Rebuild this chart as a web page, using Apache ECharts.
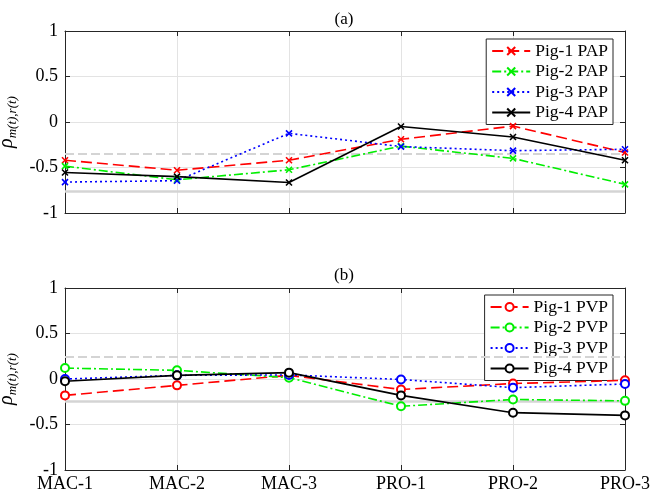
<!DOCTYPE html>
<html><head><meta charset="utf-8">
<script src="https://cdn.jsdelivr.net/npm/echarts@6/dist/echarts.min.js"></script>
<style>html,body{margin:0;padding:0;background:#fff}#c{width:653px;height:498px}</style>
</head><body><div id="c"></div>
<script>
const categories = ['MAC-1','MAC-2','MAC-3','PRO-1','PRO-2','PRO-3'];
const yTicks = [-1, -0.5, 0, 0.5, 1];
// Panel (a) PAP
const pig1PAP = [-0.42, -0.53, -0.42, -0.19, -0.045, -0.335];
const pig2PAP = [-0.485, -0.635, -0.525, -0.265, -0.40, -0.685];
const pig3PAP = [-0.66, -0.645, -0.125, -0.27, -0.315, -0.30];
const pig4PAP = [-0.555, -0.60, -0.665, -0.05, -0.165, -0.42];
const refA = [-0.35, -0.755];
// Panel (b) PVP
const pig1PVP = [-0.18, -0.07, 0.04, -0.115, -0.05, -0.015];
const pig2PVP = [0.12, 0.095, 0.015, -0.30, -0.225, -0.24];
const pig3PVP = [0.0, 0.04, 0.045, -0.005, -0.095, -0.055];
const pig4PVP = [-0.025, 0.04, 0.07, -0.18, -0.37, -0.40];
const refB = [0.25, -0.245];

const FONT = 'Liberation Serif';
const colors = ['#ff0000', '#00ee00', '#0000ff', '#000000'];
const dashes = [[11,5], [9,3,2,3], [2,3], 'solid'];
const crossPath = 'path://M0,0L10,10M10,0L0,10';

const chart = echarts.init(document.getElementById('c'), null, {renderer:'canvas'});

function mkX(gi, pos, showLabels) {
  return {
    type:'category', data:categories, gridIndex:gi, position:pos, boundaryGap:false,
    axisLine:{show:true, onZero:false, lineStyle:{color:'#262626', width:1}},
    axisTick:{show:true, inside:true, length:5, alignWithLabel:true, lineStyle:{color:'#262626'}},
    axisLabel:{show:showLabels, fontFamily:FONT, fontSize:18, color:'#000', margin:5, hideOverlap:false},
    splitLine:{show:pos==='bottom', lineStyle:{color:'#e3e3e3', width:1}}
  };
}
function mkY(gi, pos) {
  const left = pos === 'left';
  return {
    type:'value', gridIndex:gi, position:pos, min:-1, max:1, interval:0.5,
    axisLine:{show:true, onZero:false, lineStyle:{color:'#262626', width:1}},
    axisTick:{show:true, inside:true, length:5, lineStyle:{color:'#262626'}},
    axisLabel:{show:left, fontFamily:FONT, fontSize:18, color:'#000', margin:7,
      formatter: v => (yTicks.indexOf(v) >= 0 ? String(v) : '')},
    splitLine:{show:left, lineStyle:{color:'#e3e3e3', width:1}},
    name: left ? '{a|ρ}{s|m(t),r(t)}' : '',
    nameLocation:'middle', nameGap:32, nameRotate:90,
    nameTextStyle:{rich:{
      a:{fontFamily:FONT, fontStyle:'italic', fontSize:20, color:'#000'},
      s:{fontFamily:FONT, fontStyle:'italic', fontSize:13, color:'#000', padding:[10,0,0,0]}
    }}
  };
}

function mkSeries(name, data, i, gi, sym, ref) {
  const s = {
    name, type:'line', data, xAxisIndex: gi*2, yAxisIndex: gi*2,
    symbol: sym, symbolSize: sym === 'emptyCircle' ? 8 : 6,
    showSymbol:true,
    lineStyle:{color:colors[i], width:1.6, type:dashes[i]},
    itemStyle:{color:colors[i], borderColor:colors[i], borderWidth:1.6},
    z: 5, animation:false
  };
  if (ref) {
    s.markLine = {
      silent:true, symbol:['none','none'], label:{show:false}, animation:false,
      data:[
        {yAxis:ref[0], lineStyle:{color:'#d4d4d4', width:2, type:[9,4]}},
        {yAxis:ref[1], lineStyle:{color:'#d4d4d4', width:2.5, type:'solid'}}
      ]
    };
  }
  return s;
}

const series = [
  mkSeries('Pig-1 PAP', pig1PAP, 0, 0, crossPath, refA),
  mkSeries('Pig-2 PAP', pig2PAP, 1, 0, crossPath),
  mkSeries('Pig-3 PAP', pig3PAP, 2, 0, crossPath),
  mkSeries('Pig-4 PAP', pig4PAP, 3, 0, crossPath),
  mkSeries('Pig-1 PVP', pig1PVP, 0, 1, 'emptyCircle', refB),
  mkSeries('Pig-2 PVP', pig2PVP, 1, 1, 'emptyCircle'),
  mkSeries('Pig-3 PVP', pig3PVP, 2, 1, 'emptyCircle'),
  mkSeries('Pig-4 PVP', pig4PVP, 3, 1, 'emptyCircle')
];

function mkLegend(names, top) {
  return {
    data:names, right:40, top:top, orient:'vertical',
    backgroundColor:'#fff', borderColor:'#262626', borderWidth:1,
    padding:[3,5,3,5], itemGap:2.5, itemWidth:38, itemHeight:10,
    textStyle:{fontFamily:FONT, fontSize:17.5, color:'#000'}
  };
}

chart.setOption({
  animation:false,
  backgroundColor:'#fff',
  title:[
    {text:'(a)', left:339, top:6, textAlign:'center', textStyle:{fontFamily:FONT, fontSize:17, fontWeight:'normal', color:'#000'}},
    {text:'(b)', left:339, top:262, textAlign:'center', textStyle:{fontFamily:FONT, fontSize:17, fontWeight:'normal', color:'#000'}}
  ],
  grid:[
    {left:65, top:31, width:560, height:182, containLabel:false, outerBoundsMode:'none'},
    {left:65, top:288, width:560, height:182, containLabel:false, outerBoundsMode:'none'}
  ],
  xAxis:[mkX(0,'bottom',false), mkX(0,'top',false), mkX(1,'bottom',true), mkX(1,'top',false)],
  yAxis:[mkY(0,'left'), mkY(0,'right'), mkY(1,'left'), mkY(1,'right')],
  legend:[
    mkLegend(['Pig-1 PAP','Pig-2 PAP','Pig-3 PAP','Pig-4 PAP'], 39),
    mkLegend(['Pig-1 PVP','Pig-2 PVP','Pig-3 PVP','Pig-4 PVP'], 295)
  ],
  series
});
</script></body></html>
